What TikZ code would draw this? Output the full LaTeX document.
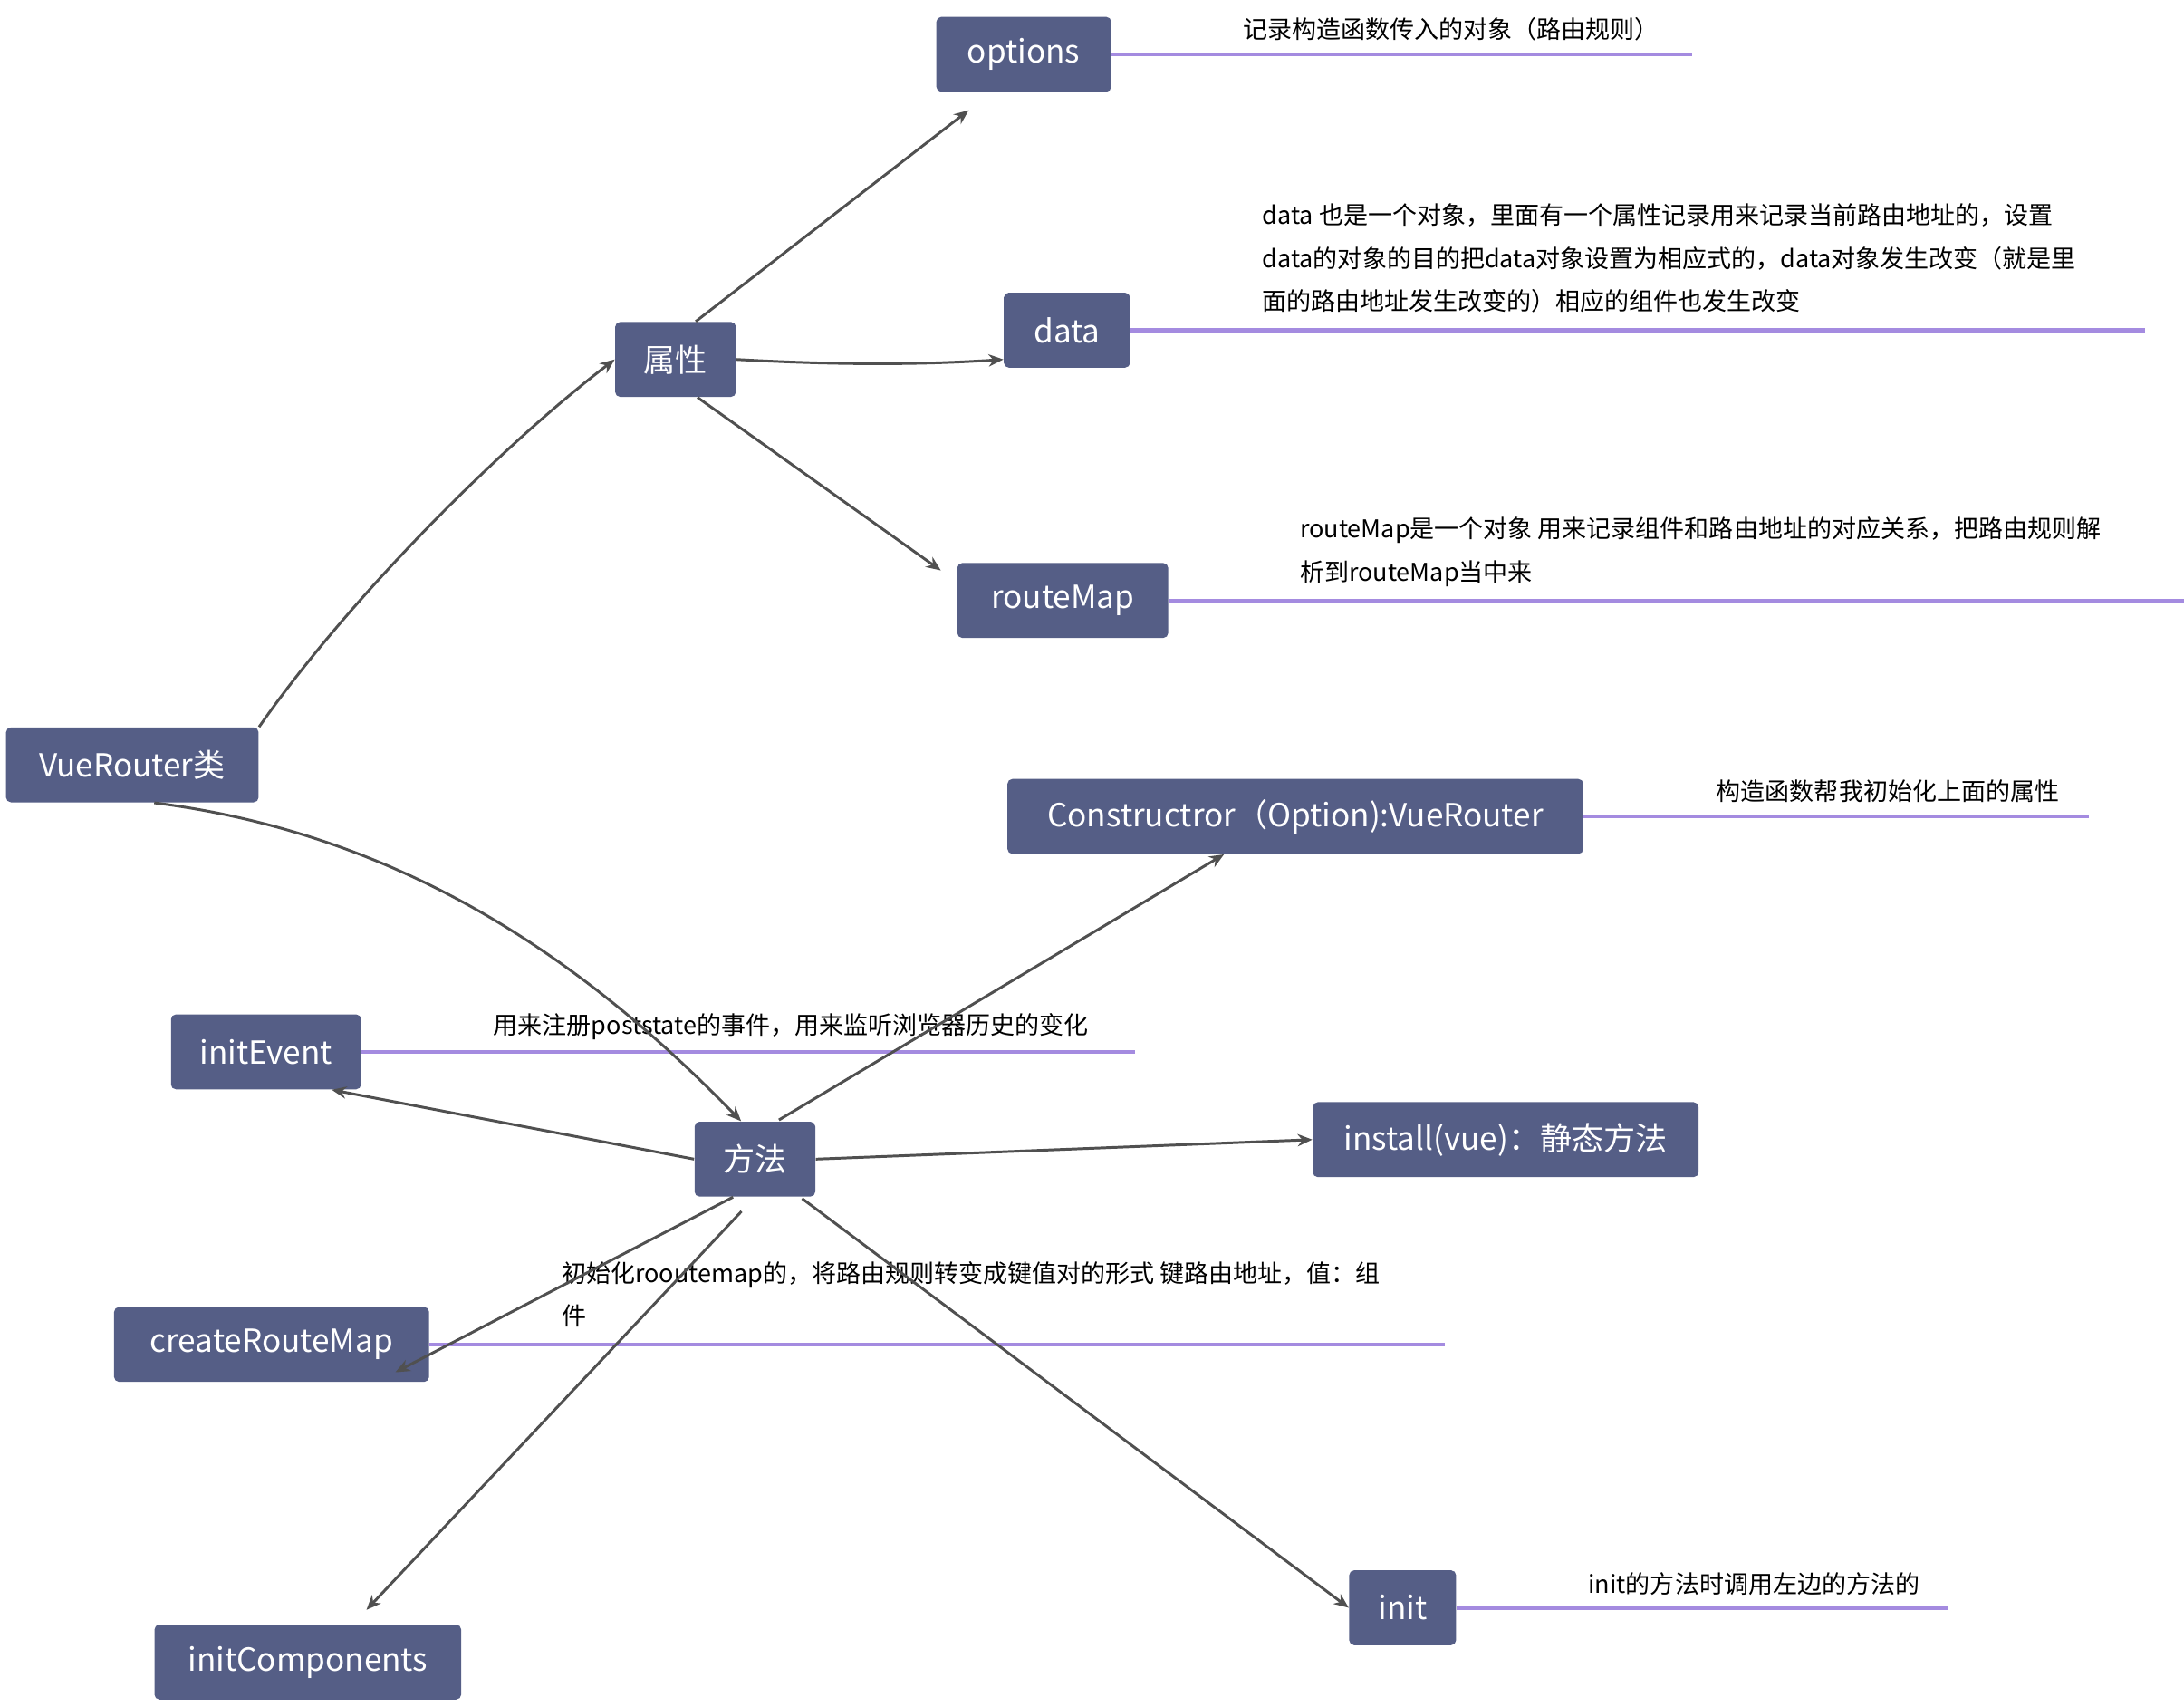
\documentclass[tikz,border=0pt]{standalone}
\usepackage{fontspec}
\setmainfont{Noto Sans CJK SC}
\usetikzlibrary{arrows.meta}
\definecolor{boxblue}{HTML}{555E86}
\definecolor{notepurple}{HTML}{A48BE0}
\definecolor{arrowgray}{HTML}{505050}
\begin{document}
\begin{tikzpicture}[x=0.02cm,y=-0.02cm,
	box/.style={draw=none,fill=boxblue,rounded corners=2pt,text=white,font=\fontsize{13}{15}\selectfont,minimum height=30.6pt,inner sep=0pt},
	note/.style={font=\fontsize{10}{17.6}\selectfont,align=left,inner sep=0pt},
	link/.style={draw=arrowgray,line width=1.1pt,-{Stealth[length=6pt,width=5pt]}},
	underline/.style={draw=notepurple,line width=1.6pt}]
	\useasboundingbox (0,0) rectangle (1568,1225);

	% boxes
	\node[box,minimum width=126*0.567pt] (opt) at (735,39) {options};
	\node[box,minimum width=87*0.567pt] (attr) at (485,258) {属性};
	\node[box,minimum width=91*0.567pt] (dat) at (766,237) {data};
	\node[box,minimum width=152*0.567pt] (rmap) at (763,431) {routeMap};
	\node[box,minimum width=182*0.567pt] (vr) at (95,549) {VueRouter类};
	\node[box,minimum width=415*0.567pt] (ctor) at (930,586) {Constructror（Option):VueRouter};
	\node[box,minimum width=137*0.567pt] (ievt) at (191,755) {initEvent};
	\node[box,minimum width=87*0.567pt] (meth) at (542,832) {方法};
	\node[box,minimum width=278*0.567pt] (inst) at (1081,818) {install(vue)：静态方法};
	\node[box,minimum width=227*0.567pt] (crm) at (195,965) {createRouteMap};
	\node[box,minimum width=221*0.567pt] (icomp) at (221,1193) {initComponents};
	\node[box,minimum width=77*0.567pt] (ini) at (1007,1154) {init};

	% notes
	\coordinate (optE) at (1215,39);
	\coordinate (datE) at (1540,237);
	\coordinate (rmapE) at (1568,431);
	\coordinate (ctorE) at (1500,586);
	\coordinate (ievtE) at (815,755);
	\coordinate (crmE) at (1037,965);
	\coordinate (iniE) at (1399,1154);
	\draw[underline] (opt.east) -- (optE);
	\draw[underline] (dat.east) -- (datE);
	\draw[underline] (rmap.east) -- (rmapE);
	\draw[underline] (ctor.east) -- (ctorE);
	\draw[underline] (ievt.east) -- (ievtE);
	\draw[underline] (crm.east) -- (crmE);
	\draw[underline] (ini.east) -- (iniE);
	\node[note,anchor=west] (optN) at (892,21) {记录构造函数传入的对象（路由规则）};
	\node[note,anchor=north west] (datN) at (906,146) {data 也是一个对象，里面有一个属性记录用来记录当前路由地址的，设置\\data的对象的目的把data对象设置为相应式的，data对象发生改变（就是里\\面的路由地址发生改变的）相应的组件也发生改变};
	\node[note,anchor=north west] (rmapN) at (933,371) {routeMap是一个对象 用来记录组件和路由地址的对应关系，把路由规则解\\析到routeMap当中来};
	\node[note,anchor=west] (ctorN) at (1232,568) {构造函数帮我初始化上面的属性};
	\node[note,anchor=west] (ievtN) at (354,737) {用来注册poststate的事件，用来监听浏览器历史的变化};
	\node[note,anchor=north west] (crmN) at (403,905) {初始化rooutemap的，将路由规则转变成键值对的形式 键路由地址，值：组\\件};
	\node[note,anchor=west] (iniN) at (1140,1137) {init的方法时调用左边的方法的};

	% connectors
	\draw[link] (vr.north east) .. controls (250,430) and (360,320) .. (attr.west);
	\draw[link,shorten >=12pt] (attr.62) -- (opt.230);
	\draw[link] (attr.east) .. controls (600,262) and (660,262) .. (dat.west |- 0,258);
	\draw[link,shorten >=8pt] (attr.-60) -- (rmap.170);
	\draw[link] (vr.-60) .. controls (300,600) and (430,700) .. (meth.110);
	\draw[link,shorten <=1pt] (meth.60) -- (ctor.-152);
	\draw[link] (meth.west) -- (ievt.-30);
	\draw[link] (meth.east) -- (inst.west);
	\draw[link,shorten >=9pt] (meth.-120) -- (crm.-20);
	\draw[link,shorten <=8pt,shorten >=8pt] (meth.-90) -- (icomp.40);
	\draw[link,shorten <=1pt] (meth.-40) -- (ini.west);
\end{tikzpicture}
\end{document}
